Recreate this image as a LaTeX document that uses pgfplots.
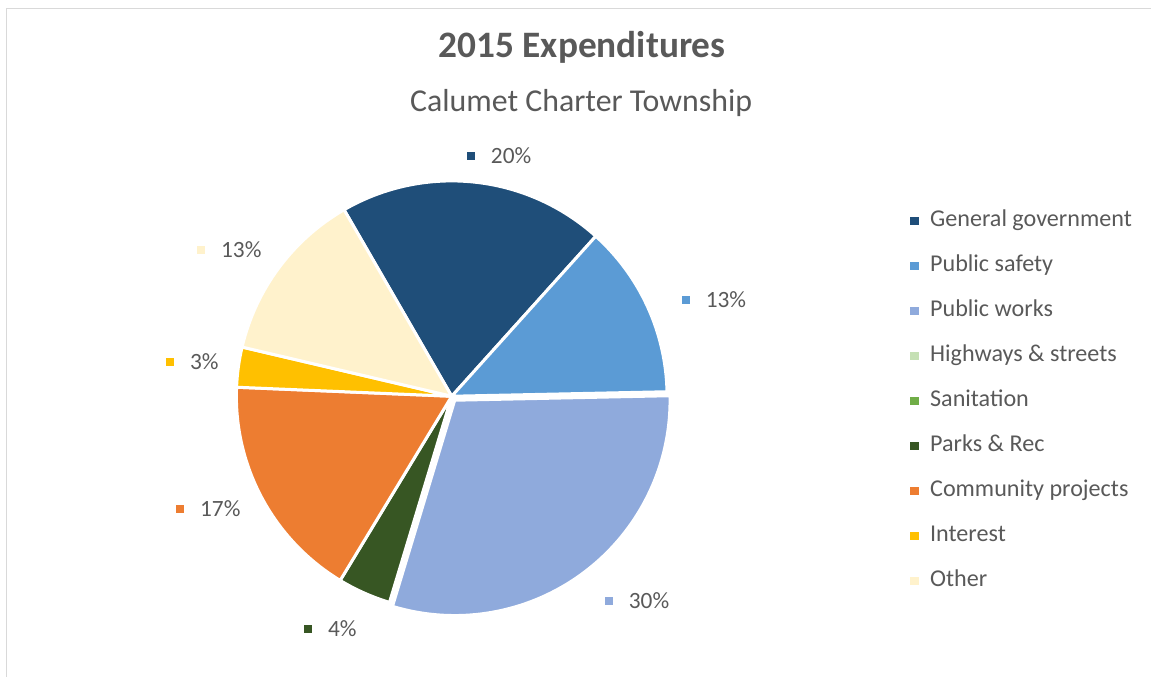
\documentclass[border=0pt]{standalone}
\usepackage{pgfplots}
\pgfplotsset{compat=1.18}
\usepackage{pgfplotstable}
\usepackage{fontspec}
\setmainfont{Carlito}
\usetikzlibrary{calc}

\definecolor{c0}{HTML}{1F4E79}
\definecolor{c1}{HTML}{5B9BD5}
\definecolor{c2}{HTML}{8FAADC}
\definecolor{c3}{HTML}{C5E0B4}
\definecolor{c4}{HTML}{70AD47}
\definecolor{c5}{HTML}{375623}
\definecolor{c6}{HTML}{ED7D31}
\definecolor{c7}{HTML}{FFC000}
\definecolor{c8}{HTML}{FFF2CC}
\definecolor{txt}{HTML}{595959}
\definecolor{frame}{HTML}{D9D9D9}

% share (%) of each category, and explosion (px)
\pgfplotstableread{
idx value explode
0 20 0
1 13 0
2 30 5
3 0 0
4 0 0
5 4 0
6 17 0
7 3 0
8 13 0
}\pie

\begin{document}%
\begin{tikzpicture}%
% cumulative angles (clockwise, first slice starting at 120 deg)
\def\cum{120}%
\pgfplotsforeachungrouped \i in {0,...,8}{%
  \pgfplotstablegetelem{\i}{value}\of\pie%
  \pgfmathsetmacro\en{\cum-3.6*\pgfplotsretval}%
  \pgfmathsetmacro\mi{(\cum+\en)/2}%
  \expandafter\xdef\csname ps\i\endcsname{\cum}%
  \expandafter\xdef\csname pe\i\endcsname{\en}%
  \expandafter\xdef\csname pm\i\endcsname{\mi}%
  \pgfplotstablegetelem{\i}{explode}\of\pie%
  \pgfmathsetmacro\ex{0.75*\pgfplotsretval}%
  \expandafter\xdef\csname px\i\endcsname{\ex}%
  \xdef\cum{\en}%
}%
\begin{axis}[
  scale only axis, width=864pt, height=507.75pt,
  xmin=0, xmax=1152, ymin=0, ymax=677,
  hide axis, clip=false,
  legend style={draw=none, fill=none, inner sep=0pt, column sep=9pt, row sep=17.4pt,
    font=\fontsize{18.1}{22}\selectfont, text=txt,
    nodes={inner sep=0pt, text height=12.4pt, text depth=4pt},
    at={(axis cs:911,467.5)}, anchor=north west},
  legend cell align=left,
  lbl/.style={forget plot, only marks, mark=square*, mark size=2.8pt,
    point meta=explicit symbolic, nodes near coords,
    nodes near coords style={anchor=west, inner sep=0pt, xshift=15pt, text=txt,
      font=\fontsize{17.5}{21}\selectfont}},
]
\path (axis cs:0,0) rectangle (axis cs:1152,677);
\draw[frame, line width=1.1pt] (axis cs:6.5,0) -- (axis cs:6.5,668.5) -- (axis cs:1152,668.5);

\pgfplotsinvokeforeach{0,...,8}{%
  \filldraw[fill=c#1, draw=white, line width=2.25pt, line join=round]
    ($(axis cs:452,280.5)+(\csname pm#1\endcsname:\csname px#1\endcsname pt)$)
    -- ++(\csname ps#1\endcsname:161.6pt)
    arc[start angle=\csname ps#1\endcsname, end angle=\csname pe#1\endcsname, radius=161.6pt]
    -- cycle;
}

\addplot[lbl, color=c0] coordinates {(471,521) [20\%]};
\addplot[lbl, color=c1] coordinates {(686,377) [13\%]};
\addplot[lbl, color=c2] coordinates {(609,76) [30\%]};
\addplot[lbl, color=c5] coordinates {(308,48) [4\%]};
\addplot[lbl, color=c6] coordinates {(180,168) [17\%]};
\addplot[lbl, color=c7] coordinates {(170,315) [3\%]};
\addplot[lbl, color=c8] coordinates {(201,427) [13\%]};

\addlegendimage{only marks, mark=square*, mark size=2.8pt, color=c0}
\addlegendentry{General government}
\addlegendimage{only marks, mark=square*, mark size=2.8pt, color=c1}
\addlegendentry{Public safety}
\addlegendimage{only marks, mark=square*, mark size=2.8pt, color=c2}
\addlegendentry{Public works}
\addlegendimage{only marks, mark=square*, mark size=2.8pt, color=c3}
\addlegendentry{Highways \& streets}
\addlegendimage{only marks, mark=square*, mark size=2.8pt, color=c4}
\addlegendentry{Sanitation}
\addlegendimage{only marks, mark=square*, mark size=2.8pt, color=c5}
\addlegendentry{Parks \& Rec}
\addlegendimage{only marks, mark=square*, mark size=2.8pt, color=c6}
\addlegendentry{Community projects}
\addlegendimage{only marks, mark=square*, mark size=2.8pt, color=c7}
\addlegendentry{Interest}
\addlegendimage{only marks, mark=square*, mark size=2.8pt, color=c8}
\addlegendentry{Other}

\node[anchor=base, text=txt, font=\bfseries\fontsize{28}{33}\selectfont] at (axis cs:582.5,619) {2015 Expenditures};
\node[anchor=base, text=txt, font=\fontsize{23.9}{28}\selectfont] at (axis cs:581.5,565) {Calumet Charter Township};
\end{axis}
\end{tikzpicture}%
\end{document}
